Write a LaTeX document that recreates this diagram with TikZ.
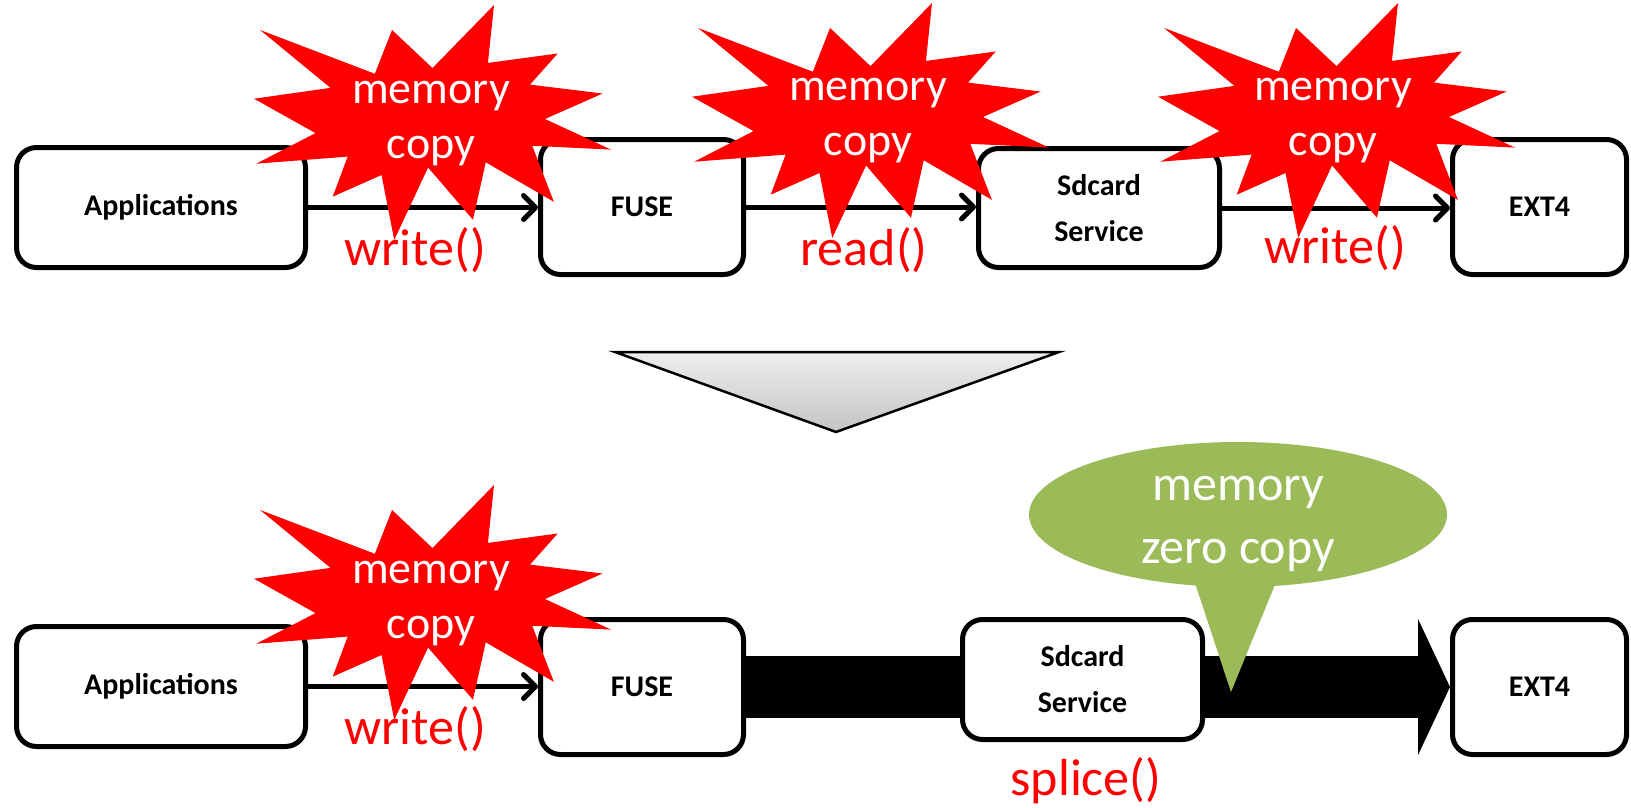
\documentclass[tikz,border=0pt]{standalone}
\usepackage{fontspec}
\setmainfont{Carlito}
\usetikzlibrary{arrows.meta,shapes.geometric,backgrounds}
\definecolor{burstred}{HTML}{FF0000}
\definecolor{calloutgreen}{HTML}{9BBB59}
\definecolor{trilight}{HTML}{EEEEEE}
\definecolor{tridark}{HTML}{C4C4C4}
\tikzset{
  burst/.pic={\fill[burstred] (50,26.85) -- (67.23,0) -- (65.53,24.65) -- (85.09,20.63) -- (77.32,33.87) -- (97.67,37.67) -- (81.51,48.50) -- (100,61.53) -- (77.95,59.92) -- (84.00,83.77) -- (64.91,66.93) -- (61.33,91.38) -- (48.76,69.14) -- (39.28,100) -- (35.72,72.35) -- (22.05,81.56) -- (26.24,64.52) -- (0.63,67.53) -- (17.23,54.51) -- (0,39.88) -- (21.42,35.26) -- (1.71,10.63) -- (33.85,29.26) -- (38.67,10.63) -- cycle;},
  box/.style={draw=black, line width=5pt, rounded corners=20pt, fill=white, inner sep=0pt, align=center,
    font=\bfseries\fontsize{30}{46}\selectfont},
  thinarrow/.style={line width=5pt, -{Straight Barb[length=12pt,width=24pt,round]}},
  bursttext/.style={text=white, anchor=base, inner sep=0pt, font=\fontsize{46}{55}\selectfont},
  greentext/.style={text=white, anchor=base, inner sep=0pt, font=\fontsize{50}{60}\selectfont},
  redlabel/.style={text=burstred, anchor=base, inner sep=0pt, font=\fontsize{52}{60}\selectfont},
}
\begin{document}
\begin{tikzpicture}[x=1pt,y=-1pt]
\useasboundingbox (0,0) rectangle (1631,808);

% ---------- top row ----------
\node[box, minimum width=289pt, minimum height=120pt] (A1) at (161,207.5) {Applications};
\node[box, minimum width=203pt, minimum height=135pt] (F1) at (642,207) {FUSE};
\node[box, minimum width=241pt, minimum height=119pt] (S1) at (1099,208) {Sdcard\\Service};
\node[box, minimum width=174pt, minimum height=135pt] (E1) at (1539.5,207) {EXT4};

\draw[thinarrow] (A1.east) -- (A1.east -| F1.west);
\draw[thinarrow] (F1.east) -- (F1.east -| S1.west);
\draw[thinarrow] (S1.east) -- (S1.east -| E1.west);

\pic[xscale=3.57, yscale=2.35] (b1) at (254,5) {burst};
\pic[xscale=3.57, yscale=2.35] (b2) at (692,3) {burst};
\pic[xscale=3.57, yscale=2.35] (b3) at (1158,3) {burst};

\node[bursttext] (b1m) at (431,103) {memory};
\node[bursttext] (b1c) at (431,158) {copy};
\node[bursttext] (b2m) at (868,100) {memory};
\node[bursttext] (b2c) at (868,155) {copy};
\node[bursttext] (b3m) at (1333,100) {memory};
\node[bursttext] (b3c) at (1333,155) {copy};

\node[redlabel] (w1) at (415,265) {write()};
\node[redlabel] (r1) at (864,265) {read()};
\node[redlabel] (w2) at (1335,263) {write()};

% ---------- transition triangle ----------
\shadedraw[top color=trilight, bottom color=tridark, draw=black, line width=2.5pt, line join=miter]
  (615,352) -- (1059,352) -- (836,432) -- cycle;

% ---------- bottom row ----------
\node[box, minimum width=289pt, minimum height=120pt] (A2) at (161,686.5) {Applications};
\node[box, minimum width=203pt, minimum height=135pt] (F2) at (642,687) {FUSE};
\node[box, minimum width=240pt, minimum height=120pt] (S2) at (1082.5,679.5) {Sdcard\\Service};
\node[box, minimum width=174pt, minimum height=135pt] (E2) at (1539.5,687) {EXT4};

\begin{scope}[on background layer]
  \draw[line width=62pt, -{Triangle[length=32pt,width=135pt]}] (F2.east) -- (E2.west);
\end{scope}

\draw[thinarrow] (A2.east) -- (A2.east -| F2.west);

\pic[xscale=3.57, yscale=2.35] (b4) at (254,485) {burst};
\node[bursttext] (b4m) at (431,583) {memory};
\node[bursttext] (b4c) at (431,638) {copy};
\node[redlabel] (w3) at (415,744) {write()};

% green callout
\node[ellipse, fill=calloutgreen, minimum width=418pt, minimum height=145pt, inner sep=0pt] (Z) at (1238,514.5) {};
\coordinate (Ztip) at (1231,692);
\fill[calloutgreen] (1190.7,570) -- (Ztip) -- (1281,570) -- cycle;
\node[greentext] (Zm) at (1238,500) {memory};
\node[greentext] (Zc) at (1238,563) {zero copy};

\node[redlabel] (sp) at (1086,795) {splice()};
\end{tikzpicture}
\end{document}
